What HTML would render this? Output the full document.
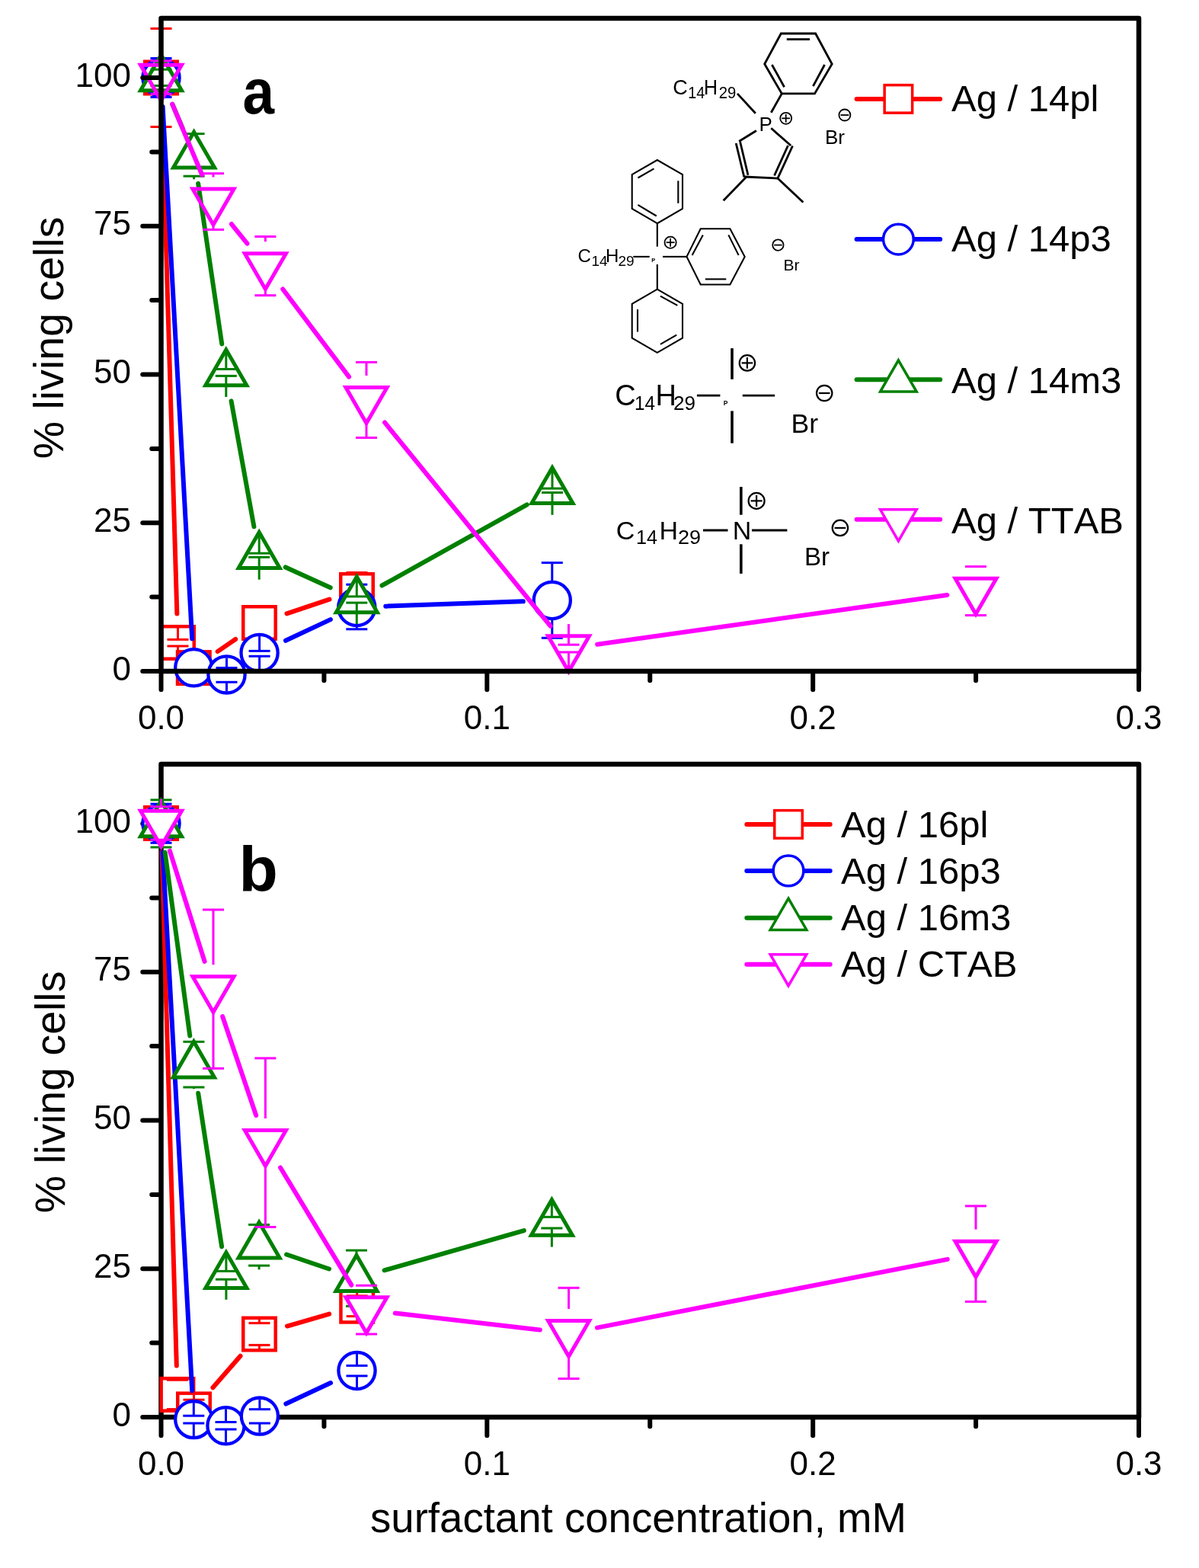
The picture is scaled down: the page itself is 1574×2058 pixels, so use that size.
<!DOCTYPE html>
<html><head><meta charset="utf-8"><title>Cell viability plot</title><style>html,body{margin:0;padding:0;background:#fff;}svg{display:block;}</style></head><body>
<svg width="1574" height="2058" viewBox="0 0 1574 2058" font-family="'Liberation Sans', Arial, Helvetica, sans-serif" style="font-kerning:none">
<rect width="1574" height="2058" fill="#fff"/>
<line x1="212.63" y1="139.98" x2="232.37" y2="805.52" stroke="#ff0000" stroke-width="6.0" stroke-linecap="round"/>
<line x1="285.64" y1="855.11" x2="309.16" y2="838.99" stroke="#ff0000" stroke-width="6.0" stroke-linecap="round"/>
<line x1="376.52" y1="805.40" x2="432.48" y2="786.60" stroke="#ff0000" stroke-width="6.0" stroke-linecap="round"/>
<rect x="190.25" y="80.75" width="42.50" height="42.50" fill="#fff" stroke="#ff0000" stroke-width="4.5"/>
<line x1="211.50" y1="82.50" x2="211.50" y2="37.50" stroke="#ff0000" stroke-width="3.0"/>
<line x1="197.50" y1="37.50" x2="225.50" y2="37.50" stroke="#ff0000" stroke-width="3.0"/>
<line x1="211.50" y1="121.50" x2="211.50" y2="166.50" stroke="#ff0000" stroke-width="3.0"/>
<line x1="197.50" y1="166.50" x2="225.50" y2="166.50" stroke="#ff0000" stroke-width="3.0"/>
<rect x="212.25" y="822.25" width="42.50" height="42.50" fill="#fff" stroke="#ff0000" stroke-width="4.5"/>
<line x1="233.50" y1="824.00" x2="233.50" y2="839.40" stroke="#ff0000" stroke-width="3.0"/>
<line x1="219.50" y1="839.40" x2="247.50" y2="839.40" stroke="#ff0000" stroke-width="3.0"/>
<line x1="233.50" y1="863.00" x2="233.50" y2="848.00" stroke="#ff0000" stroke-width="3.0"/>
<line x1="219.50" y1="848.00" x2="247.50" y2="848.00" stroke="#ff0000" stroke-width="3.0"/>
<rect x="233.05" y="855.35" width="42.50" height="42.50" fill="#fff" stroke="#ff0000" stroke-width="4.5"/>
<rect x="319.25" y="796.25" width="42.50" height="42.50" fill="#fff" stroke="#ff0000" stroke-width="4.5"/>
<line x1="340.50" y1="798.00" x2="340.50" y2="795.50" stroke="#ff0000" stroke-width="3.0"/>
<line x1="326.50" y1="795.50" x2="354.50" y2="795.50" stroke="#ff0000" stroke-width="3.0"/>
<line x1="340.50" y1="837.00" x2="340.50" y2="839.50" stroke="#ff0000" stroke-width="3.0"/>
<line x1="326.50" y1="839.50" x2="354.50" y2="839.50" stroke="#ff0000" stroke-width="3.0"/>
<rect x="447.25" y="753.25" width="42.50" height="42.50" fill="#fff" stroke="#ff0000" stroke-width="4.5"/>
<line x1="468.50" y1="755.00" x2="468.50" y2="751.50" stroke="#ff0000" stroke-width="3.0"/>
<line x1="454.50" y1="751.50" x2="482.50" y2="751.50" stroke="#ff0000" stroke-width="3.0"/>
<line x1="468.50" y1="794.00" x2="468.50" y2="797.50" stroke="#ff0000" stroke-width="3.0"/>
<line x1="454.50" y1="797.50" x2="482.50" y2="797.50" stroke="#ff0000" stroke-width="3.0"/>
<line x1="213.60" y1="139.94" x2="252.20" y2="838.36" stroke="#0000ff" stroke-width="6.0" stroke-linecap="round"/>
<line x1="375.00" y1="840.76" x2="433.90" y2="813.14" stroke="#0000ff" stroke-width="6.0" stroke-linecap="round"/>
<line x1="506.28" y1="795.67" x2="686.82" y2="789.33" stroke="#0000ff" stroke-width="6.0" stroke-linecap="round"/>
<circle cx="211.50" cy="102.00" r="24.10" fill="#fff" stroke="#0000ff" stroke-width="4.3"/>
<line x1="211.50" y1="80.00" x2="211.50" y2="76.50" stroke="#0000ff" stroke-width="3.0"/>
<line x1="197.50" y1="76.50" x2="225.50" y2="76.50" stroke="#0000ff" stroke-width="3.0"/>
<line x1="211.50" y1="124.00" x2="211.50" y2="127.50" stroke="#0000ff" stroke-width="3.0"/>
<line x1="197.50" y1="127.50" x2="225.50" y2="127.50" stroke="#0000ff" stroke-width="3.0"/>
<circle cx="254.30" cy="876.30" r="24.10" fill="#fff" stroke="#0000ff" stroke-width="4.3"/>
<circle cx="297.50" cy="885.40" r="24.10" fill="#fff" stroke="#0000ff" stroke-width="4.3"/>
<line x1="297.50" y1="863.40" x2="297.50" y2="876.60" stroke="#0000ff" stroke-width="3.0"/>
<line x1="283.50" y1="876.60" x2="311.50" y2="876.60" stroke="#0000ff" stroke-width="3.0"/>
<line x1="297.50" y1="907.40" x2="297.50" y2="895.30" stroke="#0000ff" stroke-width="3.0"/>
<line x1="283.50" y1="895.30" x2="311.50" y2="895.30" stroke="#0000ff" stroke-width="3.0"/>
<circle cx="340.60" cy="856.90" r="24.10" fill="#fff" stroke="#0000ff" stroke-width="4.3"/>
<line x1="340.60" y1="834.90" x2="340.60" y2="854.40" stroke="#0000ff" stroke-width="3.0"/>
<line x1="326.60" y1="854.40" x2="354.60" y2="854.40" stroke="#0000ff" stroke-width="3.0"/>
<line x1="340.60" y1="878.90" x2="340.60" y2="861.30" stroke="#0000ff" stroke-width="3.0"/>
<line x1="326.60" y1="861.30" x2="354.60" y2="861.30" stroke="#0000ff" stroke-width="3.0"/>
<circle cx="468.30" cy="797.00" r="24.10" fill="#fff" stroke="#0000ff" stroke-width="4.3"/>
<line x1="468.30" y1="775.00" x2="468.30" y2="767.20" stroke="#0000ff" stroke-width="3.0"/>
<line x1="454.30" y1="767.20" x2="482.30" y2="767.20" stroke="#0000ff" stroke-width="3.0"/>
<line x1="468.30" y1="819.00" x2="468.30" y2="825.80" stroke="#0000ff" stroke-width="3.0"/>
<line x1="454.30" y1="825.80" x2="482.30" y2="825.80" stroke="#0000ff" stroke-width="3.0"/>
<circle cx="724.80" cy="788.00" r="24.10" fill="#fff" stroke="#0000ff" stroke-width="4.3"/>
<line x1="724.80" y1="766.00" x2="724.80" y2="738.60" stroke="#0000ff" stroke-width="3.0"/>
<line x1="710.80" y1="738.60" x2="738.80" y2="738.60" stroke="#0000ff" stroke-width="3.0"/>
<line x1="724.80" y1="810.00" x2="724.80" y2="837.30" stroke="#0000ff" stroke-width="3.0"/>
<line x1="710.80" y1="837.30" x2="738.80" y2="837.30" stroke="#0000ff" stroke-width="3.0"/>
<line x1="226.38" y1="136.97" x2="239.72" y2="168.33" stroke="#008000" stroke-width="6.0" stroke-linecap="round"/>
<line x1="260.15" y1="240.89" x2="291.25" y2="451.41" stroke="#008000" stroke-width="6.0" stroke-linecap="round"/>
<line x1="303.57" y1="526.39" x2="333.43" y2="691.31" stroke="#008000" stroke-width="6.0" stroke-linecap="round"/>
<line x1="374.79" y1="744.44" x2="433.71" y2="771.26" stroke="#008000" stroke-width="6.0" stroke-linecap="round"/>
<line x1="501.49" y1="768.49" x2="691.81" y2="662.31" stroke="#008000" stroke-width="6.0" stroke-linecap="round"/>
<polygon points="211.50,71.90 238.52,118.70 184.48,118.70" fill="#fff" stroke="#008000" stroke-width="5.0" stroke-linejoin="miter" stroke-miterlimit="10"/>
<line x1="211.50" y1="70.00" x2="211.50" y2="91.20" stroke="#008000" stroke-width="3.0"/>
<line x1="197.50" y1="91.20" x2="225.50" y2="91.20" stroke="#008000" stroke-width="3.0"/>
<line x1="211.50" y1="134.00" x2="211.50" y2="112.50" stroke="#008000" stroke-width="3.0"/>
<line x1="197.50" y1="112.50" x2="225.50" y2="112.50" stroke="#008000" stroke-width="3.0"/>
<polygon points="254.60,173.20 281.62,220.00 227.58,220.00" fill="#fff" stroke="#008000" stroke-width="5.0" stroke-linejoin="miter" stroke-miterlimit="10"/>
<line x1="254.60" y1="171.30" x2="254.60" y2="175.60" stroke="#008000" stroke-width="3.0"/>
<line x1="240.60" y1="175.60" x2="268.60" y2="175.60" stroke="#008000" stroke-width="3.0"/>
<line x1="254.60" y1="235.30" x2="254.60" y2="231.20" stroke="#008000" stroke-width="3.0"/>
<line x1="240.60" y1="231.20" x2="268.60" y2="231.20" stroke="#008000" stroke-width="3.0"/>
<polygon points="296.80,458.90 323.82,505.70 269.78,505.70" fill="#fff" stroke="#008000" stroke-width="5.0" stroke-linejoin="miter" stroke-miterlimit="10"/>
<line x1="296.80" y1="457.00" x2="296.80" y2="484.50" stroke="#008000" stroke-width="3.0"/>
<line x1="282.80" y1="484.50" x2="310.80" y2="484.50" stroke="#008000" stroke-width="3.0"/>
<line x1="296.80" y1="521.00" x2="296.80" y2="493.40" stroke="#008000" stroke-width="3.0"/>
<line x1="282.80" y1="493.40" x2="310.80" y2="493.40" stroke="#008000" stroke-width="3.0"/>
<polygon points="340.20,698.60 367.22,745.40 313.18,745.40" fill="#fff" stroke="#008000" stroke-width="5.0" stroke-linejoin="miter" stroke-miterlimit="10"/>
<line x1="340.20" y1="696.70" x2="340.20" y2="726.20" stroke="#008000" stroke-width="3.0"/>
<line x1="326.20" y1="726.20" x2="354.20" y2="726.20" stroke="#008000" stroke-width="3.0"/>
<line x1="340.20" y1="760.70" x2="340.20" y2="731.30" stroke="#008000" stroke-width="3.0"/>
<line x1="326.20" y1="731.30" x2="354.20" y2="731.30" stroke="#008000" stroke-width="3.0"/>
<polygon points="468.30,756.90 495.32,803.70 441.28,803.70" fill="#fff" stroke="#008000" stroke-width="5.0" stroke-linejoin="miter" stroke-miterlimit="10"/>
<line x1="468.30" y1="755.00" x2="468.30" y2="782.90" stroke="#008000" stroke-width="3.0"/>
<line x1="454.30" y1="782.90" x2="482.30" y2="782.90" stroke="#008000" stroke-width="3.0"/>
<line x1="468.30" y1="819.00" x2="468.30" y2="791.10" stroke="#008000" stroke-width="3.0"/>
<line x1="454.30" y1="791.10" x2="482.30" y2="791.10" stroke="#008000" stroke-width="3.0"/>
<polygon points="725.00,613.70 752.02,660.50 697.98,660.50" fill="#fff" stroke="#008000" stroke-width="5.0" stroke-linejoin="miter" stroke-miterlimit="10"/>
<line x1="725.00" y1="611.80" x2="725.00" y2="641.10" stroke="#008000" stroke-width="3.0"/>
<line x1="711.00" y1="641.10" x2="739.00" y2="641.10" stroke="#008000" stroke-width="3.0"/>
<line x1="725.00" y1="675.80" x2="725.00" y2="646.50" stroke="#008000" stroke-width="3.0"/>
<line x1="711.00" y1="646.50" x2="739.00" y2="646.50" stroke="#008000" stroke-width="3.0"/>
<line x1="226.23" y1="136.63" x2="265.27" y2="229.47" stroke="#ff00ff" stroke-width="6.0" stroke-linecap="round"/>
<line x1="303.89" y1="294.05" x2="324.51" y2="319.55" stroke="#ff00ff" stroke-width="6.0" stroke-linecap="round"/>
<line x1="371.27" y1="379.44" x2="458.13" y2="494.66" stroke="#ff00ff" stroke-width="6.0" stroke-linecap="round"/>
<line x1="504.99" y1="554.47" x2="722.51" y2="821.63" stroke="#ff00ff" stroke-width="6.0" stroke-linecap="round"/>
<line x1="784.13" y1="845.79" x2="1243.37" y2="780.91" stroke="#ff00ff" stroke-width="6.0" stroke-linecap="round"/>
<polygon points="211.50,132.00 238.52,85.20 184.48,85.20" fill="none" stroke="#ff00ff" stroke-width="5.0" stroke-linejoin="miter" stroke-miterlimit="10"/>
<line x1="211.50" y1="69.60" x2="211.50" y2="79.90" stroke="#ff00ff" stroke-width="3.0"/>
<line x1="197.50" y1="79.90" x2="225.50" y2="79.90" stroke="#ff00ff" stroke-width="3.0"/>
<line x1="211.50" y1="133.60" x2="211.50" y2="123.40" stroke="#ff00ff" stroke-width="3.0"/>
<line x1="197.50" y1="123.40" x2="225.50" y2="123.40" stroke="#ff00ff" stroke-width="3.0"/>
<polygon points="280.00,294.90 307.02,248.10 252.98,248.10" fill="none" stroke="#ff00ff" stroke-width="5.0" stroke-linejoin="miter" stroke-miterlimit="10"/>
<line x1="280.00" y1="232.50" x2="280.00" y2="227.70" stroke="#ff00ff" stroke-width="3.0"/>
<line x1="266.00" y1="227.70" x2="294.00" y2="227.70" stroke="#ff00ff" stroke-width="3.0"/>
<line x1="280.00" y1="296.50" x2="280.00" y2="301.40" stroke="#ff00ff" stroke-width="3.0"/>
<line x1="266.00" y1="301.40" x2="294.00" y2="301.40" stroke="#ff00ff" stroke-width="3.0"/>
<polygon points="348.40,379.50 375.42,332.70 321.38,332.70" fill="none" stroke="#ff00ff" stroke-width="5.0" stroke-linejoin="miter" stroke-miterlimit="10"/>
<line x1="348.40" y1="317.10" x2="348.40" y2="310.50" stroke="#ff00ff" stroke-width="3.0"/>
<line x1="334.40" y1="310.50" x2="362.40" y2="310.50" stroke="#ff00ff" stroke-width="3.0"/>
<line x1="348.40" y1="381.10" x2="348.40" y2="387.70" stroke="#ff00ff" stroke-width="3.0"/>
<line x1="334.40" y1="387.70" x2="362.40" y2="387.70" stroke="#ff00ff" stroke-width="3.0"/>
<polygon points="481.00,555.40 508.02,508.60 453.98,508.60" fill="none" stroke="#ff00ff" stroke-width="5.0" stroke-linejoin="miter" stroke-miterlimit="10"/>
<line x1="481.00" y1="493.00" x2="481.00" y2="475.40" stroke="#ff00ff" stroke-width="3.0"/>
<line x1="467.00" y1="475.40" x2="495.00" y2="475.40" stroke="#ff00ff" stroke-width="3.0"/>
<line x1="481.00" y1="557.00" x2="481.00" y2="574.50" stroke="#ff00ff" stroke-width="3.0"/>
<line x1="467.00" y1="574.50" x2="495.00" y2="574.50" stroke="#ff00ff" stroke-width="3.0"/>
<polygon points="746.50,881.50 773.52,834.70 719.48,834.70" fill="none" stroke="#ff00ff" stroke-width="5.0" stroke-linejoin="miter" stroke-miterlimit="10"/>
<line x1="746.50" y1="819.10" x2="746.50" y2="846.20" stroke="#ff00ff" stroke-width="3.0"/>
<line x1="732.50" y1="846.20" x2="760.50" y2="846.20" stroke="#ff00ff" stroke-width="3.0"/>
<line x1="746.50" y1="883.10" x2="746.50" y2="856.00" stroke="#ff00ff" stroke-width="3.0"/>
<line x1="732.50" y1="856.00" x2="760.50" y2="856.00" stroke="#ff00ff" stroke-width="3.0"/>
<polygon points="1281.00,806.00 1308.02,759.20 1253.98,759.20" fill="none" stroke="#ff00ff" stroke-width="5.0" stroke-linejoin="miter" stroke-miterlimit="10"/>
<line x1="1267.00" y1="743.60" x2="1295.00" y2="743.60" stroke="#ff00ff" stroke-width="3.0"/>
<line x1="1267.00" y1="807.60" x2="1295.00" y2="807.60" stroke="#ff00ff" stroke-width="3.0"/>
<rect x="211.5" y="24.0" width="1283.5" height="857.0" fill="none" stroke="#000" stroke-width="6.5" stroke-linejoin="round"/>
<line x1="209.50" y1="881.00" x2="187.25" y2="881.00" stroke="#000" stroke-width="6.0" stroke-linecap="round"/>
<line x1="209.50" y1="783.62" x2="199.25" y2="783.62" stroke="#000" stroke-width="6.0" stroke-linecap="round"/>
<line x1="209.50" y1="686.25" x2="187.25" y2="686.25" stroke="#000" stroke-width="6.0" stroke-linecap="round"/>
<line x1="209.50" y1="588.88" x2="199.25" y2="588.88" stroke="#000" stroke-width="6.0" stroke-linecap="round"/>
<line x1="209.50" y1="491.50" x2="187.25" y2="491.50" stroke="#000" stroke-width="6.0" stroke-linecap="round"/>
<line x1="209.50" y1="394.12" x2="199.25" y2="394.12" stroke="#000" stroke-width="6.0" stroke-linecap="round"/>
<line x1="209.50" y1="296.75" x2="187.25" y2="296.75" stroke="#000" stroke-width="6.0" stroke-linecap="round"/>
<line x1="209.50" y1="199.38" x2="199.25" y2="199.38" stroke="#000" stroke-width="6.0" stroke-linecap="round"/>
<line x1="209.50" y1="102.00" x2="187.25" y2="102.00" stroke="#000" stroke-width="6.0" stroke-linecap="round"/>
<line x1="211.50" y1="883.00" x2="211.50" y2="905.25" stroke="#000" stroke-width="6.0" stroke-linecap="round"/>
<line x1="425.42" y1="883.00" x2="425.42" y2="893.25" stroke="#000" stroke-width="6.0" stroke-linecap="round"/>
<line x1="639.33" y1="883.00" x2="639.33" y2="905.25" stroke="#000" stroke-width="6.0" stroke-linecap="round"/>
<line x1="853.25" y1="883.00" x2="853.25" y2="893.25" stroke="#000" stroke-width="6.0" stroke-linecap="round"/>
<line x1="1067.17" y1="883.00" x2="1067.17" y2="905.25" stroke="#000" stroke-width="6.0" stroke-linecap="round"/>
<line x1="1281.08" y1="883.00" x2="1281.08" y2="893.25" stroke="#000" stroke-width="6.0" stroke-linecap="round"/>
<line x1="1495.00" y1="883.00" x2="1495.00" y2="905.25" stroke="#000" stroke-width="6.0" stroke-linecap="round"/>
<text x="172" y="892.50" text-anchor="end" font-size="44">0</text>
<text x="172" y="697.75" text-anchor="end" font-size="44">25</text>
<text x="172" y="503.00" text-anchor="end" font-size="44">50</text>
<text x="172" y="308.25" text-anchor="end" font-size="44">75</text>
<text x="172" y="113.50" text-anchor="end" font-size="44">100</text>
<text x="211.50" y="957.00" text-anchor="middle" font-size="44">0.0</text>
<text x="639.33" y="957.00" text-anchor="middle" font-size="44">0.1</text>
<text x="1067.17" y="957.00" text-anchor="middle" font-size="44">0.2</text>
<text x="1495.00" y="957.00" text-anchor="middle" font-size="44">0.3</text>
<rect x="211.5" y="1003.0" width="1283.5" height="857.0" fill="none" stroke="#000" stroke-width="6.5" stroke-linejoin="round"/>
<line x1="209.50" y1="1860.00" x2="187.25" y2="1860.00" stroke="#000" stroke-width="6.0" stroke-linecap="round"/>
<line x1="209.50" y1="1762.62" x2="199.25" y2="1762.62" stroke="#000" stroke-width="6.0" stroke-linecap="round"/>
<line x1="209.50" y1="1665.25" x2="187.25" y2="1665.25" stroke="#000" stroke-width="6.0" stroke-linecap="round"/>
<line x1="209.50" y1="1567.88" x2="199.25" y2="1567.88" stroke="#000" stroke-width="6.0" stroke-linecap="round"/>
<line x1="209.50" y1="1470.50" x2="187.25" y2="1470.50" stroke="#000" stroke-width="6.0" stroke-linecap="round"/>
<line x1="209.50" y1="1373.12" x2="199.25" y2="1373.12" stroke="#000" stroke-width="6.0" stroke-linecap="round"/>
<line x1="209.50" y1="1275.75" x2="187.25" y2="1275.75" stroke="#000" stroke-width="6.0" stroke-linecap="round"/>
<line x1="209.50" y1="1178.38" x2="199.25" y2="1178.38" stroke="#000" stroke-width="6.0" stroke-linecap="round"/>
<line x1="209.50" y1="1081.00" x2="187.25" y2="1081.00" stroke="#000" stroke-width="6.0" stroke-linecap="round"/>
<line x1="211.50" y1="1862.00" x2="211.50" y2="1884.25" stroke="#000" stroke-width="6.0" stroke-linecap="round"/>
<line x1="425.42" y1="1862.00" x2="425.42" y2="1872.25" stroke="#000" stroke-width="6.0" stroke-linecap="round"/>
<line x1="639.33" y1="1862.00" x2="639.33" y2="1884.25" stroke="#000" stroke-width="6.0" stroke-linecap="round"/>
<line x1="853.25" y1="1862.00" x2="853.25" y2="1872.25" stroke="#000" stroke-width="6.0" stroke-linecap="round"/>
<line x1="1067.17" y1="1862.00" x2="1067.17" y2="1884.25" stroke="#000" stroke-width="6.0" stroke-linecap="round"/>
<line x1="1281.08" y1="1862.00" x2="1281.08" y2="1872.25" stroke="#000" stroke-width="6.0" stroke-linecap="round"/>
<line x1="1495.00" y1="1862.00" x2="1495.00" y2="1884.25" stroke="#000" stroke-width="6.0" stroke-linecap="round"/>
<line x1="212.58" y1="1118.48" x2="231.82" y2="1792.42" stroke="#ff0000" stroke-width="6.0" stroke-linecap="round"/>
<line x1="279.43" y1="1821.22" x2="315.57" y2="1779.68" stroke="#ff0000" stroke-width="6.0" stroke-linecap="round"/>
<line x1="377.02" y1="1740.52" x2="432.18" y2="1724.68" stroke="#ff0000" stroke-width="6.0" stroke-linecap="round"/>
<rect x="190.25" y="1059.25" width="42.50" height="42.50" fill="#fff" stroke="#ff0000" stroke-width="4.5"/>
<rect x="211.65" y="1809.15" width="42.50" height="42.50" fill="#fff" stroke="#ff0000" stroke-width="4.5"/>
<line x1="218.90" y1="1811.20" x2="246.90" y2="1811.20" stroke="#ff0000" stroke-width="3.0"/>
<line x1="218.90" y1="1849.60" x2="246.90" y2="1849.60" stroke="#ff0000" stroke-width="3.0"/>
<rect x="233.25" y="1828.65" width="42.50" height="42.50" fill="#fff" stroke="#ff0000" stroke-width="4.5"/>
<line x1="254.50" y1="1830.40" x2="254.50" y2="1837.20" stroke="#ff0000" stroke-width="3.0"/>
<line x1="240.50" y1="1837.20" x2="268.50" y2="1837.20" stroke="#ff0000" stroke-width="3.0"/>
<line x1="254.50" y1="1869.40" x2="254.50" y2="1862.60" stroke="#ff0000" stroke-width="3.0"/>
<line x1="240.50" y1="1862.60" x2="268.50" y2="1862.60" stroke="#ff0000" stroke-width="3.0"/>
<rect x="319.25" y="1729.75" width="42.50" height="42.50" fill="#fff" stroke="#ff0000" stroke-width="4.5"/>
<line x1="340.50" y1="1731.50" x2="340.50" y2="1736.60" stroke="#ff0000" stroke-width="3.0"/>
<line x1="326.50" y1="1736.60" x2="354.50" y2="1736.60" stroke="#ff0000" stroke-width="3.0"/>
<line x1="340.50" y1="1770.50" x2="340.50" y2="1765.40" stroke="#ff0000" stroke-width="3.0"/>
<line x1="326.50" y1="1765.40" x2="354.50" y2="1765.40" stroke="#ff0000" stroke-width="3.0"/>
<rect x="447.45" y="1692.95" width="42.50" height="42.50" fill="#fff" stroke="#ff0000" stroke-width="4.5"/>
<line x1="468.70" y1="1694.70" x2="468.70" y2="1700.80" stroke="#ff0000" stroke-width="3.0"/>
<line x1="454.70" y1="1700.80" x2="482.70" y2="1700.80" stroke="#ff0000" stroke-width="3.0"/>
<line x1="468.70" y1="1733.70" x2="468.70" y2="1727.60" stroke="#ff0000" stroke-width="3.0"/>
<line x1="454.70" y1="1727.60" x2="482.70" y2="1727.60" stroke="#ff0000" stroke-width="3.0"/>
<line x1="213.58" y1="1118.64" x2="252.22" y2="1825.16" stroke="#0000ff" stroke-width="6.0" stroke-linecap="round"/>
<line x1="375.33" y1="1842.52" x2="434.07" y2="1815.08" stroke="#0000ff" stroke-width="6.0" stroke-linecap="round"/>
<circle cx="211.50" cy="1080.70" r="24.10" fill="#fff" stroke="#0000ff" stroke-width="4.3"/>
<line x1="211.50" y1="1058.70" x2="211.50" y2="1055.20" stroke="#0000ff" stroke-width="3.0"/>
<line x1="197.50" y1="1055.20" x2="225.50" y2="1055.20" stroke="#0000ff" stroke-width="3.0"/>
<line x1="211.50" y1="1102.70" x2="211.50" y2="1106.30" stroke="#0000ff" stroke-width="3.0"/>
<line x1="197.50" y1="1106.30" x2="225.50" y2="1106.30" stroke="#0000ff" stroke-width="3.0"/>
<circle cx="254.30" cy="1863.10" r="24.10" fill="#fff" stroke="#0000ff" stroke-width="4.3"/>
<line x1="254.30" y1="1841.10" x2="254.30" y2="1858.20" stroke="#0000ff" stroke-width="3.0"/>
<line x1="240.30" y1="1858.20" x2="268.30" y2="1858.20" stroke="#0000ff" stroke-width="3.0"/>
<line x1="254.30" y1="1885.10" x2="254.30" y2="1868.00" stroke="#0000ff" stroke-width="3.0"/>
<line x1="240.30" y1="1868.00" x2="268.30" y2="1868.00" stroke="#0000ff" stroke-width="3.0"/>
<circle cx="296.50" cy="1871.20" r="24.10" fill="#fff" stroke="#0000ff" stroke-width="4.3"/>
<line x1="296.50" y1="1849.20" x2="296.50" y2="1866.50" stroke="#0000ff" stroke-width="3.0"/>
<line x1="282.50" y1="1866.50" x2="310.50" y2="1866.50" stroke="#0000ff" stroke-width="3.0"/>
<line x1="296.50" y1="1893.20" x2="296.50" y2="1876.00" stroke="#0000ff" stroke-width="3.0"/>
<line x1="282.50" y1="1876.00" x2="310.50" y2="1876.00" stroke="#0000ff" stroke-width="3.0"/>
<circle cx="340.90" cy="1858.60" r="24.10" fill="#fff" stroke="#0000ff" stroke-width="4.3"/>
<line x1="340.90" y1="1836.60" x2="340.90" y2="1849.70" stroke="#0000ff" stroke-width="3.0"/>
<line x1="326.90" y1="1849.70" x2="354.90" y2="1849.70" stroke="#0000ff" stroke-width="3.0"/>
<line x1="340.90" y1="1880.60" x2="340.90" y2="1868.00" stroke="#0000ff" stroke-width="3.0"/>
<line x1="326.90" y1="1868.00" x2="354.90" y2="1868.00" stroke="#0000ff" stroke-width="3.0"/>
<circle cx="468.50" cy="1799.00" r="24.10" fill="#fff" stroke="#0000ff" stroke-width="4.3"/>
<line x1="468.50" y1="1777.00" x2="468.50" y2="1792.40" stroke="#0000ff" stroke-width="3.0"/>
<line x1="454.50" y1="1792.40" x2="482.50" y2="1792.40" stroke="#0000ff" stroke-width="3.0"/>
<line x1="468.50" y1="1821.00" x2="468.50" y2="1805.90" stroke="#0000ff" stroke-width="3.0"/>
<line x1="454.50" y1="1805.90" x2="482.50" y2="1805.90" stroke="#0000ff" stroke-width="3.0"/>
<line x1="216.61" y1="1118.66" x2="249.29" y2="1359.54" stroke="#008000" stroke-width="6.0" stroke-linecap="round"/>
<line x1="260.17" y1="1434.76" x2="291.13" y2="1636.24" stroke="#008000" stroke-width="6.0" stroke-linecap="round"/>
<line x1="376.08" y1="1646.51" x2="432.02" y2="1665.49" stroke="#008000" stroke-width="6.0" stroke-linecap="round"/>
<line x1="504.54" y1="1667.28" x2="687.86" y2="1615.02" stroke="#008000" stroke-width="6.0" stroke-linecap="round"/>
<polygon points="211.50,1050.90 238.52,1097.70 184.48,1097.70" fill="#fff" stroke="#008000" stroke-width="5.0" stroke-linejoin="miter" stroke-miterlimit="10"/>
<line x1="211.50" y1="1049.00" x2="211.50" y2="1049.90" stroke="#008000" stroke-width="3.0"/>
<line x1="197.50" y1="1049.90" x2="225.50" y2="1049.90" stroke="#008000" stroke-width="3.0"/>
<line x1="211.50" y1="1113.00" x2="211.50" y2="1112.00" stroke="#008000" stroke-width="3.0"/>
<line x1="197.50" y1="1112.00" x2="225.50" y2="1112.00" stroke="#008000" stroke-width="3.0"/>
<polygon points="254.40,1367.10 281.42,1413.90 227.38,1413.90" fill="#fff" stroke="#008000" stroke-width="5.0" stroke-linejoin="miter" stroke-miterlimit="10"/>
<line x1="254.40" y1="1365.20" x2="254.40" y2="1367.30" stroke="#008000" stroke-width="3.0"/>
<line x1="240.40" y1="1367.30" x2="268.40" y2="1367.30" stroke="#008000" stroke-width="3.0"/>
<line x1="254.40" y1="1429.20" x2="254.40" y2="1427.00" stroke="#008000" stroke-width="3.0"/>
<line x1="240.40" y1="1427.00" x2="268.40" y2="1427.00" stroke="#008000" stroke-width="3.0"/>
<polygon points="296.90,1643.70 323.92,1690.50 269.88,1690.50" fill="#fff" stroke="#008000" stroke-width="5.0" stroke-linejoin="miter" stroke-miterlimit="10"/>
<line x1="296.90" y1="1641.80" x2="296.90" y2="1668.40" stroke="#008000" stroke-width="3.0"/>
<line x1="282.90" y1="1668.40" x2="310.90" y2="1668.40" stroke="#008000" stroke-width="3.0"/>
<line x1="296.90" y1="1705.80" x2="296.90" y2="1679.20" stroke="#008000" stroke-width="3.0"/>
<line x1="282.90" y1="1679.20" x2="310.90" y2="1679.20" stroke="#008000" stroke-width="3.0"/>
<polygon points="340.10,1604.20 367.12,1651.00 313.08,1651.00" fill="#fff" stroke="#008000" stroke-width="5.0" stroke-linejoin="miter" stroke-miterlimit="10"/>
<line x1="340.10" y1="1602.30" x2="340.10" y2="1607.40" stroke="#008000" stroke-width="3.0"/>
<line x1="326.10" y1="1607.40" x2="354.10" y2="1607.40" stroke="#008000" stroke-width="3.0"/>
<line x1="340.10" y1="1666.30" x2="340.10" y2="1661.10" stroke="#008000" stroke-width="3.0"/>
<line x1="326.10" y1="1661.10" x2="354.10" y2="1661.10" stroke="#008000" stroke-width="3.0"/>
<polygon points="468.00,1647.60 495.02,1694.40 440.98,1694.40" fill="#fff" stroke="#008000" stroke-width="5.0" stroke-linejoin="miter" stroke-miterlimit="10"/>
<line x1="468.00" y1="1645.70" x2="468.00" y2="1641.10" stroke="#008000" stroke-width="3.0"/>
<line x1="454.00" y1="1641.10" x2="482.00" y2="1641.10" stroke="#008000" stroke-width="3.0"/>
<line x1="468.00" y1="1709.70" x2="468.00" y2="1714.30" stroke="#008000" stroke-width="3.0"/>
<line x1="454.00" y1="1714.30" x2="482.00" y2="1714.30" stroke="#008000" stroke-width="3.0"/>
<polygon points="724.40,1574.50 751.42,1621.30 697.38,1621.30" fill="#fff" stroke="#008000" stroke-width="5.0" stroke-linejoin="miter" stroke-miterlimit="10"/>
<line x1="724.40" y1="1572.60" x2="724.40" y2="1597.30" stroke="#008000" stroke-width="3.0"/>
<line x1="710.40" y1="1597.30" x2="738.40" y2="1597.30" stroke="#008000" stroke-width="3.0"/>
<line x1="724.40" y1="1636.60" x2="724.40" y2="1612.00" stroke="#008000" stroke-width="3.0"/>
<line x1="710.40" y1="1612.00" x2="738.40" y2="1612.00" stroke="#008000" stroke-width="3.0"/>
<line x1="222.92" y1="1116.94" x2="268.58" y2="1261.96" stroke="#ff00ff" stroke-width="6.0" stroke-linecap="round"/>
<line x1="292.20" y1="1334.19" x2="336.20" y2="1464.01" stroke="#ff00ff" stroke-width="6.0" stroke-linecap="round"/>
<line x1="368.08" y1="1532.51" x2="461.32" y2="1686.59" stroke="#ff00ff" stroke-width="6.0" stroke-linecap="round"/>
<line x1="518.75" y1="1723.48" x2="708.85" y2="1745.52" stroke="#ff00ff" stroke-width="6.0" stroke-linecap="round"/>
<line x1="783.90" y1="1742.62" x2="1243.70" y2="1652.88" stroke="#ff00ff" stroke-width="6.0" stroke-linecap="round"/>
<polygon points="211.50,1111.10 238.52,1064.30 184.48,1064.30" fill="#fff" stroke="#ff00ff" stroke-width="5.0" stroke-linejoin="miter" stroke-miterlimit="10"/>
<line x1="211.50" y1="1048.70" x2="211.50" y2="1058.80" stroke="#ff00ff" stroke-width="3.0"/>
<line x1="197.50" y1="1058.80" x2="225.50" y2="1058.80" stroke="#ff00ff" stroke-width="3.0"/>
<line x1="211.50" y1="1112.70" x2="211.50" y2="1102.20" stroke="#ff00ff" stroke-width="3.0"/>
<line x1="197.50" y1="1102.20" x2="225.50" y2="1102.20" stroke="#ff00ff" stroke-width="3.0"/>
<polygon points="280.00,1328.60 307.02,1281.80 252.98,1281.80" fill="#fff" stroke="#ff00ff" stroke-width="5.0" stroke-linejoin="miter" stroke-miterlimit="10"/>
<line x1="280.00" y1="1266.20" x2="280.00" y2="1194.00" stroke="#ff00ff" stroke-width="3.0"/>
<line x1="266.00" y1="1194.00" x2="294.00" y2="1194.00" stroke="#ff00ff" stroke-width="3.0"/>
<line x1="280.00" y1="1330.20" x2="280.00" y2="1402.30" stroke="#ff00ff" stroke-width="3.0"/>
<line x1="266.00" y1="1402.30" x2="294.00" y2="1402.30" stroke="#ff00ff" stroke-width="3.0"/>
<polygon points="348.40,1530.40 375.42,1483.60 321.38,1483.60" fill="#fff" stroke="#ff00ff" stroke-width="5.0" stroke-linejoin="miter" stroke-miterlimit="10"/>
<line x1="348.40" y1="1468.00" x2="348.40" y2="1388.90" stroke="#ff00ff" stroke-width="3.0"/>
<line x1="334.40" y1="1388.90" x2="362.40" y2="1388.90" stroke="#ff00ff" stroke-width="3.0"/>
<line x1="348.40" y1="1532.00" x2="348.40" y2="1610.50" stroke="#ff00ff" stroke-width="3.0"/>
<line x1="334.40" y1="1610.50" x2="362.40" y2="1610.50" stroke="#ff00ff" stroke-width="3.0"/>
<polygon points="481.00,1749.50 508.02,1702.70 453.98,1702.70" fill="#fff" stroke="#ff00ff" stroke-width="5.0" stroke-linejoin="miter" stroke-miterlimit="10"/>
<line x1="467.00" y1="1687.20" x2="495.00" y2="1687.20" stroke="#ff00ff" stroke-width="3.0"/>
<line x1="467.00" y1="1751.00" x2="495.00" y2="1751.00" stroke="#ff00ff" stroke-width="3.0"/>
<polygon points="746.60,1780.30 773.62,1733.50 719.58,1733.50" fill="#fff" stroke="#ff00ff" stroke-width="5.0" stroke-linejoin="miter" stroke-miterlimit="10"/>
<line x1="746.60" y1="1717.90" x2="746.60" y2="1690.30" stroke="#ff00ff" stroke-width="3.0"/>
<line x1="732.60" y1="1690.30" x2="760.60" y2="1690.30" stroke="#ff00ff" stroke-width="3.0"/>
<line x1="746.60" y1="1781.90" x2="746.60" y2="1809.50" stroke="#ff00ff" stroke-width="3.0"/>
<line x1="732.60" y1="1809.50" x2="760.60" y2="1809.50" stroke="#ff00ff" stroke-width="3.0"/>
<polygon points="1281.00,1676.00 1308.02,1629.20 1253.98,1629.20" fill="#fff" stroke="#ff00ff" stroke-width="5.0" stroke-linejoin="miter" stroke-miterlimit="10"/>
<line x1="1281.00" y1="1613.60" x2="1281.00" y2="1582.90" stroke="#ff00ff" stroke-width="3.0"/>
<line x1="1267.00" y1="1582.90" x2="1295.00" y2="1582.90" stroke="#ff00ff" stroke-width="3.0"/>
<line x1="1281.00" y1="1677.60" x2="1281.00" y2="1708.40" stroke="#ff00ff" stroke-width="3.0"/>
<line x1="1267.00" y1="1708.40" x2="1295.00" y2="1708.40" stroke="#ff00ff" stroke-width="3.0"/>
<text x="172" y="1871.50" text-anchor="end" font-size="44">0</text>
<text x="172" y="1676.75" text-anchor="end" font-size="44">25</text>
<text x="172" y="1482.00" text-anchor="end" font-size="44">50</text>
<text x="172" y="1287.25" text-anchor="end" font-size="44">75</text>
<text x="172" y="1092.50" text-anchor="end" font-size="44">100</text>
<text x="211.50" y="1936.00" text-anchor="middle" font-size="44">0.0</text>
<text x="639.33" y="1936.00" text-anchor="middle" font-size="44">0.1</text>
<text x="1067.17" y="1936.00" text-anchor="middle" font-size="44">0.2</text>
<text x="1495.00" y="1936.00" text-anchor="middle" font-size="44">0.3</text>
<text transform="translate(318.5,149) scale(0.89,1)" font-size="84" font-weight="bold">a</text>
<text x="313.5" y="1169.5" font-size="84" font-weight="bold">b</text>
<text transform="translate(83,443.4) rotate(-90)" text-anchor="middle" font-size="55.5">% living cells</text>
<text transform="translate(84.9,1433.4) rotate(-90)" text-anchor="middle" font-size="55.5">% living cells</text>
<text x="838" y="2010.7" text-anchor="middle" font-size="54.6">surfactant concentration, mM</text>
<line x1="1124.6" y1="129.9" x2="1234.2" y2="129.9" stroke="#ff0000" stroke-width="6" stroke-linecap="round"/>
<rect x="1161.15" y="111.65" width="36.50" height="36.50" fill="#fff" stroke="#ff0000" stroke-width="3.5"/>
<text x="1249.0" y="146.4" font-size="49">Ag / 14pl</text>
<line x1="1124.6" y1="314.1" x2="1234.2" y2="314.1" stroke="#0000ff" stroke-width="6" stroke-linecap="round"/>
<circle cx="1179.40" cy="314.10" r="19.85" fill="#fff" stroke="#0000ff" stroke-width="3.5"/>
<text x="1249.0" y="330.2" font-size="49">Ag / 14p3</text>
<line x1="1124.6" y1="498.3" x2="1234.2" y2="498.3" stroke="#008000" stroke-width="6" stroke-linecap="round"/>
<polygon points="1179.40,472.77 1203.22,514.02 1155.58,514.02" fill="#fff" stroke="#008000" stroke-width="3.5" stroke-linejoin="miter" stroke-miterlimit="10"/>
<text x="1249.0" y="516.1" font-size="49">Ag / 14m3</text>
<line x1="1124.6" y1="681.8" x2="1234.2" y2="681.8" stroke="#ff00ff" stroke-width="6" stroke-linecap="round"/>
<polygon points="1179.40,710.09 1203.22,668.84 1155.58,668.84" fill="#fff" stroke="#ff00ff" stroke-width="3.5" stroke-linejoin="miter" stroke-miterlimit="10"/>
<text x="1249.0" y="699.6" font-size="49">Ag / TTAB</text>
<line x1="980.3" y1="1081.9" x2="1089.7" y2="1081.9" stroke="#ff0000" stroke-width="6" stroke-linecap="round"/>
<rect x="1016.75" y="1063.65" width="36.50" height="36.50" fill="#fff" stroke="#ff0000" stroke-width="3.5"/>
<text x="1104.0" y="1099.0" font-size="49">Ag / 16pl</text>
<line x1="980.3" y1="1142.9" x2="1089.7" y2="1142.9" stroke="#0000ff" stroke-width="6" stroke-linecap="round"/>
<circle cx="1035.00" cy="1142.90" r="19.85" fill="#fff" stroke="#0000ff" stroke-width="3.5"/>
<text x="1104.0" y="1160.0" font-size="49">Ag / 16p3</text>
<line x1="980.3" y1="1204.7" x2="1089.7" y2="1204.7" stroke="#008000" stroke-width="6" stroke-linecap="round"/>
<polygon points="1035.00,1179.17 1058.82,1220.42 1011.18,1220.42" fill="#fff" stroke="#008000" stroke-width="3.5" stroke-linejoin="miter" stroke-miterlimit="10"/>
<text x="1104.0" y="1221.2" font-size="49">Ag / 16m3</text>
<line x1="980.3" y1="1265.7" x2="1089.7" y2="1265.7" stroke="#ff00ff" stroke-width="6" stroke-linecap="round"/>
<polygon points="1035.00,1293.99 1058.82,1252.74 1011.18,1252.74" fill="#fff" stroke="#ff00ff" stroke-width="3.5" stroke-linejoin="miter" stroke-miterlimit="10"/>
<text x="1104.0" y="1281.9" font-size="49">Ag / CTAB</text>

<text x="883.2" y="123.6" font-size="27.5" textLength="19.5" lengthAdjust="spacingAndGlyphs">C</text>
<text x="903.2" y="128.8" font-size="21.5" textLength="22" lengthAdjust="spacingAndGlyphs">14</text>
<text x="924.0" y="123.6" font-size="27.5" textLength="18" lengthAdjust="spacingAndGlyphs">H</text>
<text x="943.8" y="128.8" font-size="21.5" textLength="22.5" lengthAdjust="spacingAndGlyphs">29</text>
<line x1="968" y1="122.9" x2="991.8" y2="148.8" stroke="#000" stroke-width="2.8" stroke-linecap="butt"/>
<line x1="1012.3" y1="147.7" x2="1026.3" y2="122.9" stroke="#000" stroke-width="2.8" stroke-linecap="butt"/>
<polygon points="1025.3,44 1070.6,44 1092.2,84 1069.5,122.9 1026.3,122.9 1003.7,84" fill="none" stroke="#000" stroke-width="2.8" stroke-linejoin="miter"/>
<line x1="1032.8" y1="51.6" x2="1063" y2="51.6" stroke="#000" stroke-width="2.8" stroke-linecap="butt"/>
<line x1="1013.4" y1="85" x2="1029.6" y2="114.3" stroke="#000" stroke-width="2.8" stroke-linecap="butt"/>
<line x1="1082.5" y1="85" x2="1067.4" y2="113.2" stroke="#000" stroke-width="2.8" stroke-linecap="butt"/>
<text x="996.5" y="171.5" font-size="26">P</text>
<circle cx="1031.7" cy="155.3" r="7.5" fill="none" stroke="#000" stroke-width="1.8"/>
<line x1="1026.3" y1="155.3" x2="1037.1000000000001" y2="155.3" stroke="#000" stroke-width="1.8" stroke-linecap="butt"/>
<line x1="1031.7" y1="149.9" x2="1031.7" y2="160.70000000000002" stroke="#000" stroke-width="1.8" stroke-linecap="butt"/>
<line x1="992.9" y1="171.5" x2="970.2" y2="185.5" stroke="#000" stroke-width="2.8" stroke-linecap="butt"/>
<line x1="966.2" y1="188.0" x2="976.9" y2="232.5" stroke="#000" stroke-width="2.8" stroke-linecap="butt"/>
<line x1="971.6" y1="186.0" x2="982.0" y2="229.8" stroke="#000" stroke-width="2.8" stroke-linecap="butt"/>
<line x1="977.0" y1="232.0" x2="1021.0" y2="234.1" stroke="#000" stroke-width="2.8" stroke-linecap="butt"/>
<line x1="1020.9" y1="234.1" x2="1040.5" y2="191.5" stroke="#000" stroke-width="2.8" stroke-linecap="butt"/>
<line x1="1016.5" y1="230.5" x2="1034.5" y2="191.0" stroke="#000" stroke-width="2.8" stroke-linecap="butt"/>
<line x1="1012.3" y1="168.3" x2="1038.2" y2="191.0" stroke="#000" stroke-width="2.8" stroke-linecap="butt"/>
<line x1="979.9" y1="232" x2="949.7" y2="263.3" stroke="#000" stroke-width="2.8" stroke-linecap="butt"/>
<line x1="1020.9" y1="234.1" x2="1054.4" y2="265.5" stroke="#000" stroke-width="2.8" stroke-linecap="butt"/>
<text x="1083.0" y="188.8" font-size="26">Br</text>
<circle cx="1108.9" cy="151" r="7.5" fill="none" stroke="#000" stroke-width="1.8"/>
<line x1="1103.5" y1="151" x2="1114.3000000000002" y2="151" stroke="#000" stroke-width="1.8" stroke-linecap="butt"/>
<text x="758.5" y="344" font-size="24">C</text>
<text x="776.5" y="349" font-size="19">14</text>
<text x="795.0" y="344" font-size="24">H</text>
<text x="811.5" y="349" font-size="19">29</text>
<line x1="831.3" y1="336.9" x2="852.7" y2="336.9" stroke="#000" stroke-width="2.1" stroke-linecap="butt"/>
<text x="855.2" y="344" font-size="7.5" font-weight="bold">P</text>
<circle cx="880.1" cy="318.2" r="7.6" fill="none" stroke="#000" stroke-width="1.8"/>
<line x1="874.628" y1="318.2" x2="885.572" y2="318.2" stroke="#000" stroke-width="1.8" stroke-linecap="butt"/>
<line x1="880.1" y1="312.728" x2="880.1" y2="323.67199999999997" stroke="#000" stroke-width="1.8" stroke-linecap="butt"/>
<line x1="862.8" y1="323.7" x2="862.8" y2="293.2" stroke="#000" stroke-width="2.1" stroke-linecap="butt"/>
<line x1="862.8" y1="347" x2="862.8" y2="379.6" stroke="#000" stroke-width="2.1" stroke-linecap="butt"/>
<line x1="870" y1="336.9" x2="901.5" y2="336.9" stroke="#000" stroke-width="2.1" stroke-linecap="butt"/>
<polygon points="862.8,293.2 829.7,273.9 829.7,229.1 862.8,210 896,229.1 896,273.9" fill="none" stroke="#000" stroke-width="2.1" stroke-linejoin="miter"/>
<line x1="837.4" y1="233.5" x2="858.5" y2="221.3" stroke="#000" stroke-width="2.1" stroke-linecap="butt"/>
<line x1="890.3" y1="237.3" x2="890.3" y2="266.8" stroke="#000" stroke-width="2.1" stroke-linecap="butt"/>
<line x1="837.4" y1="268.8" x2="861.8" y2="283.5" stroke="#000" stroke-width="2.1" stroke-linecap="butt"/>
<polygon points="901.5,336.9 919.7,300.3 958.4,300.3 977.7,336.9 958.4,373.5 919.7,373.5" fill="none" stroke="#000" stroke-width="2.1" stroke-linejoin="miter"/>
<line x1="908.6" y1="334.9" x2="922.8" y2="308.4" stroke="#000" stroke-width="2.1" stroke-linecap="butt"/>
<line x1="956.3" y1="308.4" x2="969.6" y2="334.9" stroke="#000" stroke-width="2.1" stroke-linecap="butt"/>
<line x1="925.8" y1="366.4" x2="953.3" y2="366.4" stroke="#000" stroke-width="2.1" stroke-linecap="butt"/>
<polygon points="862.8,379.6 896,398.9 896,443.6 862.8,462.9 829.7,443.6 829.7,398.9" fill="none" stroke="#000" stroke-width="2.1" stroke-linejoin="miter"/>
<line x1="866.9" y1="388.7" x2="889.3" y2="400.9" stroke="#000" stroke-width="2.1" stroke-linecap="butt"/>
<line x1="837" y1="406" x2="837" y2="435.5" stroke="#000" stroke-width="2.1" stroke-linecap="butt"/>
<line x1="866.9" y1="451.8" x2="888.2" y2="439.6" stroke="#000" stroke-width="2.1" stroke-linecap="butt"/>
<circle cx="1021.4" cy="321.6" r="7.2" fill="none" stroke="#000" stroke-width="1.8"/>
<line x1="1016.216" y1="321.6" x2="1026.584" y2="321.6" stroke="#000" stroke-width="1.8" stroke-linecap="butt"/>
<text x="1028.5" y="355.2" font-size="21">Br</text>
<text x="807.3" y="532.3" font-size="38">C</text>
<text x="833.0" y="538.4" font-size="25.5" textLength="27" lengthAdjust="spacingAndGlyphs">14</text>
<text x="860.5" y="532.3" font-size="38">H</text>
<text x="884.0" y="538.4" font-size="25.5" textLength="29" lengthAdjust="spacingAndGlyphs">29</text>
<line x1="914.9" y1="519.1" x2="945.4" y2="519.1" stroke="#000" stroke-width="2.8" stroke-linecap="butt"/>
<text x="949.8" y="531.7" font-size="8.5" font-weight="bold">P</text>
<line x1="974.8" y1="519.1" x2="1017.1" y2="519.1" stroke="#000" stroke-width="2.8" stroke-linecap="butt"/>
<line x1="961" y1="457.1" x2="961" y2="497.8" stroke="#000" stroke-width="3.6" stroke-linecap="butt"/>
<line x1="961" y1="539.4" x2="961" y2="581.7" stroke="#000" stroke-width="3.6" stroke-linecap="butt"/>
<circle cx="980.9" cy="476.4" r="10.2" fill="none" stroke="#000" stroke-width="2.2"/>
<line x1="973.5559999999999" y1="476.4" x2="988.244" y2="476.4" stroke="#000" stroke-width="2.2" stroke-linecap="butt"/>
<line x1="980.9" y1="469.056" x2="980.9" y2="483.74399999999997" stroke="#000" stroke-width="2.2" stroke-linecap="butt"/>
<circle cx="1082.2" cy="516" r="10.2" fill="none" stroke="#000" stroke-width="2.2"/>
<line x1="1074.856" y1="516" x2="1089.544" y2="516" stroke="#000" stroke-width="2.2" stroke-linecap="butt"/>
<text x="1038.5" y="567.9" font-size="35.5">Br</text>
<text x="808.8" y="708.2" font-size="34">C</text>
<text x="835.0" y="714.3" font-size="25" textLength="28" lengthAdjust="spacingAndGlyphs">14</text>
<text x="865.5" y="708.2" font-size="34">H</text>
<text x="890.0" y="714.3" font-size="25" textLength="30" lengthAdjust="spacingAndGlyphs">29</text>
<line x1="923" y1="696" x2="955.5" y2="696" stroke="#000" stroke-width="2.8" stroke-linecap="butt"/>
<text x="961.8" y="708.2" font-size="34">N</text>
<line x1="987" y1="696" x2="1033.4" y2="696" stroke="#000" stroke-width="2.8" stroke-linecap="butt"/>
<line x1="972.8" y1="639" x2="972.8" y2="675.7" stroke="#000" stroke-width="3.6" stroke-linecap="butt"/>
<line x1="972.8" y1="714.3" x2="972.8" y2="752.9" stroke="#000" stroke-width="3.6" stroke-linecap="butt"/>
<circle cx="993.1" cy="657.4" r="10.5" fill="none" stroke="#000" stroke-width="2.2"/>
<line x1="985.5400000000001" y1="657.4" x2="1000.66" y2="657.4" stroke="#000" stroke-width="2.2" stroke-linecap="butt"/>
<line x1="993.1" y1="649.84" x2="993.1" y2="664.9599999999999" stroke="#000" stroke-width="2.2" stroke-linecap="butt"/>
<circle cx="1102.9" cy="692.9" r="10.2" fill="none" stroke="#000" stroke-width="2.2"/>
<line x1="1095.556" y1="692.9" x2="1110.2440000000001" y2="692.9" stroke="#000" stroke-width="2.2" stroke-linecap="butt"/>
<text x="1056.0" y="741.7" font-size="33">Br</text>
</svg>
</body></html>
